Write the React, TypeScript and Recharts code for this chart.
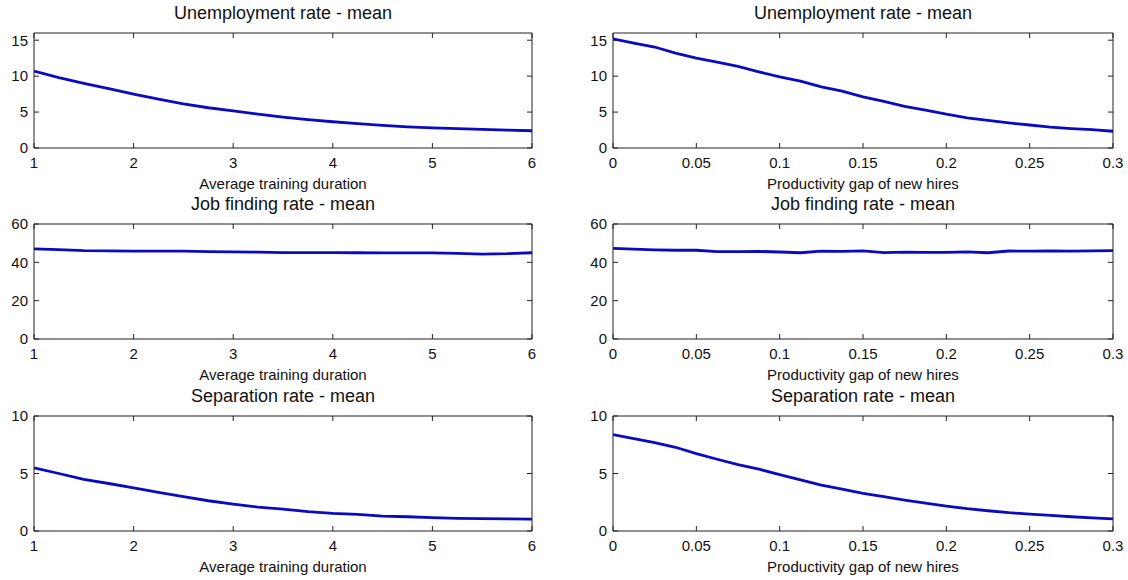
import React from 'react';
import { LineChart, Line, XAxis, YAxis } from 'recharts';

// ---- data ----
const trainingX = [1, 1.25, 1.5, 1.75, 2, 2.25, 2.5, 2.75, 3, 3.25, 3.5, 3.75, 4, 4.25, 4.5, 4.75, 5, 5.25, 5.5, 5.75, 6];
const unempTraining = [10.7, 9.8, 9.0, 8.25, 7.5, 6.8, 6.15, 5.6, 5.15, 4.7, 4.3, 3.95, 3.65, 3.4, 3.15, 2.95, 2.8, 2.7, 2.6, 2.5, 2.4];
const jobFindTraining = [47.0, 46.6, 46.1, 46.0, 45.8, 45.8, 45.8, 45.6, 45.5, 45.3, 45.1, 45.1, 45.1, 45.0, 44.9, 44.9, 44.9, 44.7, 44.3, 44.5, 45.0];
const sepTraining = [5.49, 5.0, 4.48, 4.13, 3.76, 3.35, 2.98, 2.63, 2.34, 2.08, 1.91, 1.68, 1.53, 1.45, 1.3, 1.24, 1.16, 1.1, 1.07, 1.05, 1.04];

const gapX = [0, 0.0125, 0.025, 0.0375, 0.05, 0.0625, 0.075, 0.0875, 0.1, 0.1125, 0.125, 0.1375, 0.15, 0.1625, 0.175, 0.1875, 0.2, 0.2125, 0.225, 0.2375, 0.25, 0.2625, 0.275, 0.2875, 0.3];
const unempGap = [15.2, 14.6, 14.05, 13.2, 12.5, 11.95, 11.35, 10.6, 9.9, 9.3, 8.5, 7.9, 7.1, 6.5, 5.8, 5.27, 4.7, 4.2, 3.85, 3.5, 3.2, 2.9, 2.7, 2.55, 2.33];
const jobFindGap = [47.3, 46.9, 46.5, 46.3, 46.3, 45.6, 45.6, 45.7, 45.4, 45.0, 45.8, 45.7, 46.0, 45.1, 45.3, 45.2, 45.2, 45.5, 45.0, 45.9, 45.8, 46.0, 45.9, 46.0, 46.1];
const sepGap = [8.38, 8.03, 7.69, 7.28, 6.73, 6.24, 5.78, 5.38, 4.91, 4.45, 3.99, 3.64, 3.27, 2.98, 2.69, 2.43, 2.17, 1.94, 1.76, 1.59, 1.47, 1.36, 1.24, 1.15, 1.05];

const trainingTicks = [1, 2, 3, 4, 5, 6];
const gapTicks = [0, 0.05, 0.1, 0.15, 0.2, 0.25, 0.3];
const gapTickLabels = ['0', '0.05', '0.1', '0.15', '0.2', '0.25', '0.3'];
const unempTicks = [0, 5, 10, 15];
const jobTicks = [0, 20, 40, 60];
const sepTicks = [0, 5, 10];

const titles = ['Unemployment rate - mean', 'Job finding rate - mean', 'Separation rate - mean'];
const xLabels = ['Average training duration', 'Productivity gap of new hires'];

// ---- style ----
const FONT = '"Liberation Sans", Arial, Helvetica, sans-serif';
const TEXT = '#111';
const AX = '#222';
const LINE = '#0a0ac0';

type PanelProps = {
  left: number;
  top: number;
  width: number;
  yAxisWidth: number;
  marginRight: number;
  title: string;
  xLabel: string;
  xs: number[];
  ys: number[];
  xDomain: [number, number];
  xTicks: number[];
  xTickFormat?: (v: number) => string;
  yDomain: [number, number];
  yTicks: number[];
};

const blank = () => '';

function Panel(p: PanelProps) {
  const data = p.xs.map((x, i) => ({ x, y: p.ys[i] }));
  const tickStyle = { fill: TEXT, fontSize: 15, fontFamily: FONT };
  const markTick = { fill: 'none', fontSize: 1 };
  return (
    <div style={{ position: 'absolute', left: p.left, top: p.top }}>
      <LineChart
        width={p.width}
        height={194}
        data={data}
        margin={{ top: 33, right: p.marginRight, bottom: 0, left: 0 }}
      >
        <XAxis
          xAxisId="lab"
          dataKey="x"
          type="number"
          domain={p.xDomain}
          allowDataOverflow
          ticks={p.xTicks}
          interval={0}
          tickFormatter={p.xTickFormat}
          tickSize={0}
          tickMargin={9}
          axisLine={false}
          tickLine={false}
          height={46}
          tick={tickStyle}
          label={{ value: p.xLabel, position: 'insideBottom', offset: 5, fill: TEXT, fontSize: 15, fontFamily: FONT }}
        />
        <XAxis
          xAxisId="bm"
          dataKey="x"
          type="number"
          orientation="bottom"
          mirror
          domain={p.xDomain}
          allowDataOverflow
          ticks={p.xTicks}
          interval={0}
          tick={markTick}
          tickFormatter={blank}
          tickSize={5}
          axisLine={{ stroke: AX }}
          tickLine={{ stroke: AX, strokeWidth: 1 }}
        />
        <XAxis
          xAxisId="tm"
          dataKey="x"
          type="number"
          orientation="top"
          mirror
          domain={p.xDomain}
          allowDataOverflow
          ticks={p.xTicks}
          interval={0}
          tick={markTick}
          tickFormatter={blank}
          tickSize={5}
          axisLine={{ stroke: AX }}
          tickLine={{ stroke: AX, strokeWidth: 1 }}
          label={{ value: p.title, position: 'top', offset: 14, fill: TEXT, fontSize: 18, fontFamily: FONT }}
        />
        <YAxis
          yAxisId="lab"
          type="number"
          domain={p.yDomain}
          allowDataOverflow
          ticks={p.yTicks}
          interval={0}
          width={p.yAxisWidth}
          tickSize={0}
          tickMargin={6}
          axisLine={false}
          tickLine={false}
          tick={tickStyle}
        />
        <YAxis
          yAxisId="lm"
          type="number"
          mirror
          domain={p.yDomain}
          allowDataOverflow
          ticks={p.yTicks}
          interval={0}
          tick={markTick}
          tickFormatter={blank}
          tickSize={5}
          axisLine={{ stroke: AX }}
          tickLine={{ stroke: AX, strokeWidth: 1 }}
        />
        <YAxis
          yAxisId="rm"
          type="number"
          orientation="right"
          mirror
          domain={p.yDomain}
          allowDataOverflow
          ticks={p.yTicks}
          interval={0}
          tick={markTick}
          tickFormatter={blank}
          tickSize={5}
          axisLine={{ stroke: AX }}
          tickLine={{ stroke: AX, strokeWidth: 1 }}
        />
        {/* invisible helper series so the frame axes get a live scale */}
        <Line
          xAxisId="tm"
          yAxisId="lm"
          dataKey="y"
          stroke="none"
          strokeOpacity={0}
          dot={false}
          activeDot={false}
          legendType="none"
          isAnimationActive={false}
        />
        <Line
          xAxisId="bm"
          yAxisId="rm"
          dataKey="y"
          stroke="none"
          strokeOpacity={0}
          dot={false}
          activeDot={false}
          legendType="none"
          isAnimationActive={false}
        />
        <Line
          xAxisId="lab"
          yAxisId="lab"
          dataKey="y"
          type="linear"
          stroke={LINE}
          strokeWidth={2.8}
          dot={false}
          activeDot={false}
          isAnimationActive={false}
        />
      </LineChart>
    </div>
  );
}

const gapFormat = (v: number) => {
  const i = gapTicks.indexOf(v);
  return i >= 0 ? gapTickLabels[i] : String(v);
};

const rowTops = [0, 191, 383];

export default function App() {
  const leftCol = { left: 0, width: 566, yAxisWidth: 34, marginRight: 34 };
  const rightCol = { left: 566, width: 562, yAxisWidth: 47, marginRight: 15 };
  const rows = [
    { ysL: unempTraining, ysR: unempGap, yDomain: [0, 16] as [number, number], yTicks: unempTicks },
    { ysL: jobFindTraining, ysR: jobFindGap, yDomain: [0, 60] as [number, number], yTicks: jobTicks },
    { ysL: sepTraining, ysR: sepGap, yDomain: [0, 10] as [number, number], yTicks: sepTicks },
  ];
  return (
    <div style={{ position: 'absolute', left: 0, top: 0, width: 1128, height: 580, background: '#fff', fontFamily: FONT }}>
      {rows.map((r, i) => (
        <React.Fragment key={i}>
          <Panel
            {...leftCol}
            top={rowTops[i]}
            title={titles[i]}
            xLabel={xLabels[0]}
            xs={trainingX}
            ys={r.ysL}
            xDomain={[1, 6]}
            xTicks={trainingTicks}
            yDomain={r.yDomain}
            yTicks={r.yTicks}
          />
          <Panel
            {...rightCol}
            top={rowTops[i]}
            title={titles[i]}
            xLabel={xLabels[1]}
            xs={gapX}
            ys={r.ysR}
            xDomain={[0, 0.3]}
            xTicks={gapTicks}
            xTickFormat={gapFormat}
            yDomain={r.yDomain}
            yTicks={r.yTicks}
          />
        </React.Fragment>
      ))}
    </div>
  );
}
